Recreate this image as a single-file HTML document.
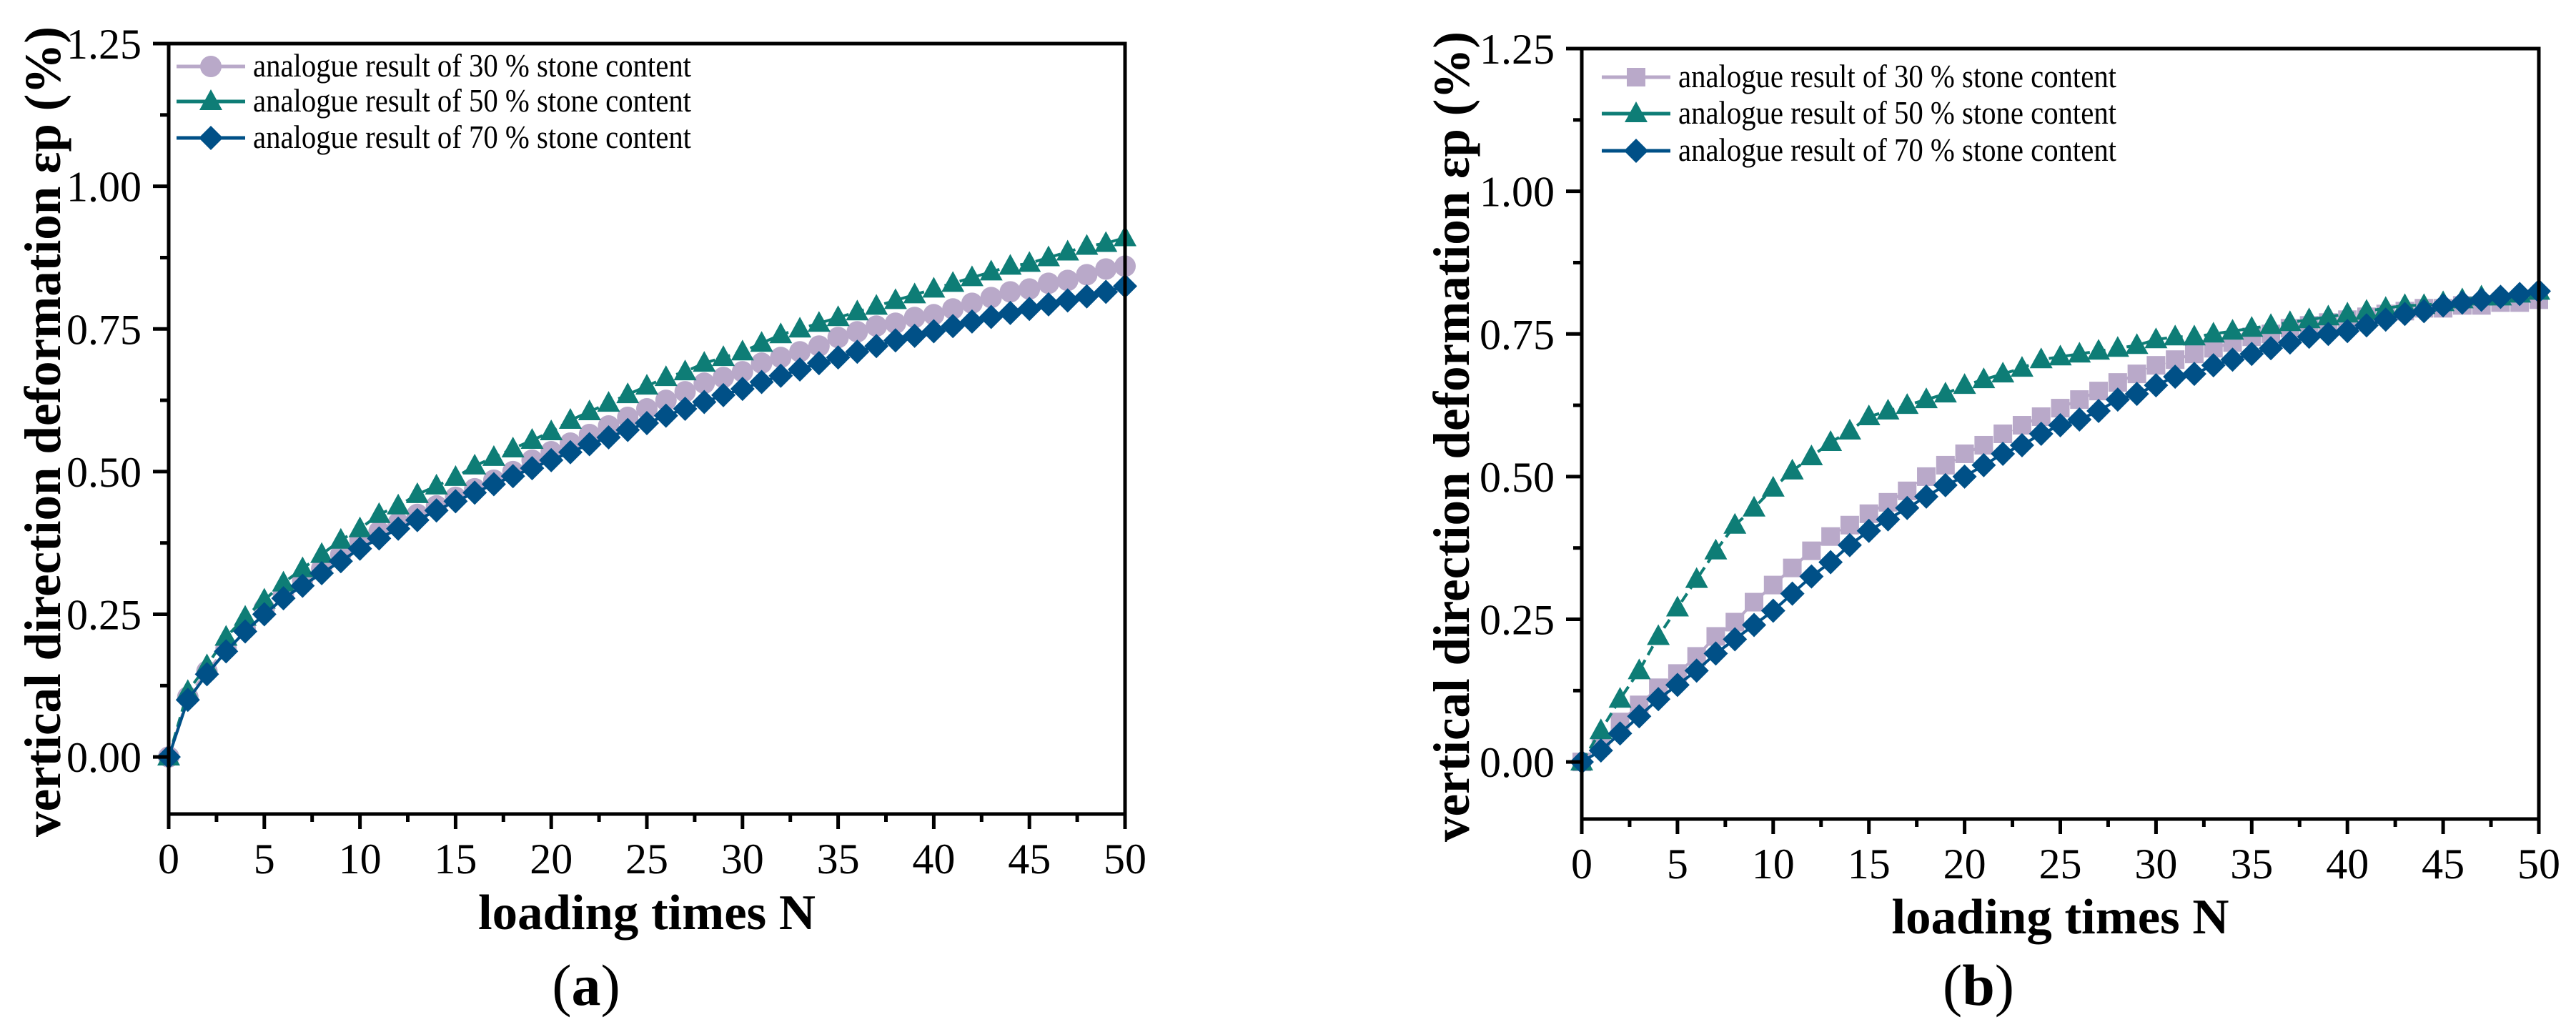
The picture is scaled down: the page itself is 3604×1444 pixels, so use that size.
<!DOCTYPE html>
<html><head><meta charset="utf-8"><style>
html,body{margin:0;padding:0;background:#fff;}
svg{display:block;}
</style></head><body>
<svg id="fig" xmlns="http://www.w3.org/2000/svg" width="3604" height="1444" viewBox="0 0 3604 1444" font-family="'Liberation Serif', serif">
<rect width="3604" height="1444" fill="#fff"/>
</svg>
<script>
const loadingTimes = [];
for (let i = 0; i <= 50; i++) loadingTimes.push(i);
const xTicks = [0,5,10,15,20,25,30,35,40,45,50];
const yTicks = [0,0.25,0.5,0.75,1.0,1.25];
const yTickLabels = ["0.00","0.25","0.50","0.75","1.00","1.25"];
const seriesNames = ["analogue result of 30 % stone content","analogue result of 50 % stone content","analogue result of 70 % stone content"];
const a30 = [0,0.105,0.15,0.19,0.225,0.26,0.285,0.31,0.33,0.355,0.38,0.395,0.41,0.425,0.44,0.455,0.47,0.485,0.50,0.52,0.535,0.55,0.565,0.58,0.595,0.61,0.625,0.64,0.655,0.665,0.675,0.69,0.70,0.71,0.72,0.735,0.745,0.755,0.76,0.77,0.775,0.785,0.795,0.805,0.815,0.82,0.83,0.835,0.845,0.855,0.86];
const a50 = [0,0.115,0.16,0.21,0.245,0.275,0.305,0.33,0.355,0.38,0.40,0.425,0.44,0.46,0.475,0.49,0.51,0.525,0.54,0.555,0.57,0.59,0.605,0.62,0.635,0.65,0.665,0.675,0.69,0.70,0.71,0.725,0.74,0.75,0.76,0.77,0.78,0.79,0.80,0.81,0.82,0.83,0.84,0.85,0.86,0.865,0.875,0.885,0.895,0.90,0.91];
const a70 = [0,0.10,0.145,0.185,0.22,0.25,0.278,0.30,0.322,0.343,0.365,0.383,0.40,0.415,0.432,0.448,0.463,0.478,0.492,0.506,0.52,0.534,0.548,0.56,0.573,0.585,0.598,0.61,0.622,0.634,0.645,0.657,0.668,0.679,0.69,0.70,0.71,0.72,0.73,0.738,0.746,0.755,0.763,0.771,0.778,0.785,0.793,0.80,0.807,0.815,0.825];
const b30 = [0,0.03,0.07,0.10,0.13,0.155,0.185,0.22,0.245,0.28,0.31,0.34,0.37,0.395,0.415,0.435,0.455,0.475,0.50,0.52,0.54,0.555,0.575,0.59,0.605,0.62,0.635,0.65,0.665,0.68,0.695,0.705,0.715,0.725,0.735,0.745,0.75,0.76,0.765,0.77,0.775,0.78,0.785,0.79,0.795,0.795,0.80,0.80,0.805,0.805,0.81];
const b50 = [0,0.055,0.11,0.16,0.22,0.27,0.32,0.37,0.415,0.445,0.48,0.51,0.535,0.56,0.58,0.605,0.615,0.625,0.635,0.645,0.66,0.67,0.68,0.69,0.705,0.71,0.715,0.72,0.725,0.73,0.74,0.745,0.745,0.75,0.755,0.76,0.765,0.77,0.775,0.78,0.785,0.79,0.795,0.80,0.80,0.805,0.81,0.815,0.815,0.82,0.825];
const b70 = [0,0.02,0.05,0.08,0.11,0.135,0.16,0.19,0.215,0.24,0.265,0.295,0.325,0.35,0.38,0.405,0.425,0.445,0.465,0.485,0.50,0.52,0.54,0.555,0.575,0.59,0.60,0.615,0.635,0.645,0.66,0.675,0.68,0.695,0.705,0.715,0.725,0.735,0.745,0.75,0.755,0.765,0.775,0.785,0.79,0.80,0.805,0.81,0.815,0.82,0.825];

const NS = "http://www.w3.org/2000/svg";
const svg = document.getElementById("fig");
const C30 = "#b9a9c9", C50 = "#0e7d76", C70 = "#005087";
function mk(tag, attrs, parent) {
  const e = document.createElementNS(NS, tag);
  for (const k in attrs) e.setAttribute(k, attrs[k]);
  (parent || svg).appendChild(e);
  return e;
}
function marker(g, shape, cx, cy, color) {
  let e;
  if (shape === "circle") e = mk("circle", {cx: cx, cy: cy, r: 15, fill: color}, g);
  else if (shape === "square") e = mk("rect", {x: cx-13, y: cy-13, width: 26, height: 26, fill: color}, g);
  else if (shape === "triangle") e = mk("polygon", {points: `${cx},${cy-17} ${cx+16},${cy+12} ${cx-16},${cy+12}`, fill: color}, g);
  else e = mk("polygon", {points: `${cx},${cy-17} ${cx+17},${cy} ${cx},${cy+17} ${cx-17},${cy}`, fill: color}, g);
  return e;
}
function panel(cfg) {
  const {L, R, T, B, id} = cfg;
  const ymin = -0.1, ymax = 1.25;
  const xs = v => L + v / 50 * (R - L);
  const ys = v => B - (v - ymin) / (ymax - ymin) * (B - T);
  const g = mk("g", {});
  
  
  const ser = [
    {d: cfg.d30, c: C30, s: cfg.shape30, dash: "10,8", n: "series-30"},
    {d: cfg.d50, c: C50, s: "triangle", dash: "14,8", n: "series-50"},
    {d: cfg.d70, c: C70, s: "diamond", dash: "", n: "series-70"}
  ];
  ser.forEach(S => {
    const sg = mk("g", {}, g);
    
    
    const pts = S.d.map((v, i) => xs(loadingTimes[i]) + "," + ys(v)).join(" ");
    const pl = mk("polyline", {points: pts, fill: "none", stroke: S.c, "stroke-width": 4}, sg);
    if (S.dash) pl.setAttribute("stroke-dasharray", S.dash);
    S.d.forEach((v, i) => {
      const m = marker(sg, S.s, xs(loadingTimes[i]), ys(v), S.c);
      
      
    });
  });
  const fr = mk("rect", {x: L, y: T, width: R - L, height: B - T, fill: "none", stroke: "#000", "stroke-width": 5}, g);
  
  
  for (let v = 0; v <= 50; v += 2.5) {
    const major = (v % 5 === 0);
    mk("line", {x1: xs(v), x2: xs(v), y1: B, y2: B + (major ? 21 : 11), stroke: "#000", "stroke-width": 5}, g);
  }
  xTicks.forEach(v => {
    const t = mk("text", {x: xs(v), y: B + 83, "font-size": 60, "text-anchor": "middle", fill: "#000"}, g);
    t.textContent = v;
    
    
  });
  for (let v = 0; v <= 1.25001; v += 0.125) {
    const major = Math.abs(v / 0.25 - Math.round(v / 0.25)) < 1e-6;
    mk("line", {x1: L - (major ? 22 : 12), x2: L, y1: ys(v), y2: ys(v), stroke: "#000", "stroke-width": 5}, g);
  }
  yTicks.forEach((v, i) => {
    const t = mk("text", {x: L - 38, y: ys(v) + 21, "font-size": 60, "text-anchor": "end", fill: "#000"}, g);
    t.textContent = yTickLabels[i];
    
    
  });
  const xt = mk("text", {x: (L + R) / 2, y: cfg.xtY, "font-size": 70, "font-weight": "bold", "text-anchor": "middle", textLength: 472, lengthAdjust: "spacingAndGlyphs", fill: "#000"}, g);
  xt.textContent = "loading times N";
  
  
  const yt = mk("text", {x: 0, y: 0, "font-size": 72, "font-weight": "bold", "text-anchor": "middle", textLength: 1134, lengthAdjust: "spacingAndGlyphs", fill: "#000", transform: `translate(${cfg.ytX},${cfg.ytCY}) rotate(-90)`}, g);
  yt.textContent = "vertical direction deformation εp (%)";
  
  
  const shapes = [cfg.shape30, "triangle", "diamond"], cols = [C30, C50, C70];
  cfg.legY.forEach((ly, i) => {
    const lg = mk("g", {}, g);
    
    
    mk("line", {x1: cfg.legX, x2: cfg.legX + 96, y1: ly, y2: ly, stroke: cols[i], "stroke-width": 5}, lg);
    marker(lg, shapes[i], cfg.legX + 48, ly, cols[i]);
    const t = mk("text", {x: cfg.legX + 107, y: ly + 14, "font-size": 45, textLength: 613, lengthAdjust: "spacingAndGlyphs", fill: "#000"}, lg);
    t.textContent = seriesNames[i];
  });
  const cap = mk("text", {x: cfg.capX, y: 1406, "font-size": 82, "text-anchor": "middle", fill: "#000"}, g);
  cap.innerHTML = '(<tspan font-weight="bold">' + cfg.cap + '</tspan>)';
  
  
}
panel({id: "panel-a", L: 236, R: 1574, T: 61, B: 1139, d30: a30, d50: a50, d70: a70, shape30: "circle",
  xtY: 1300, ytX: 84, ytCY: 604, legX: 247, legY: [93, 142, 193], capX: 820, cap: "a"});
panel({id: "panel-b", L: 2213, R: 3552, T: 68, B: 1146, d30: b30, d50: b50, d70: b70, shape30: "square",
  xtY: 1306, ytX: 2055, ytCY: 611, legX: 2241, legY: [108, 159, 211], capX: 2768, cap: "b"});
</script>
</body></html>
